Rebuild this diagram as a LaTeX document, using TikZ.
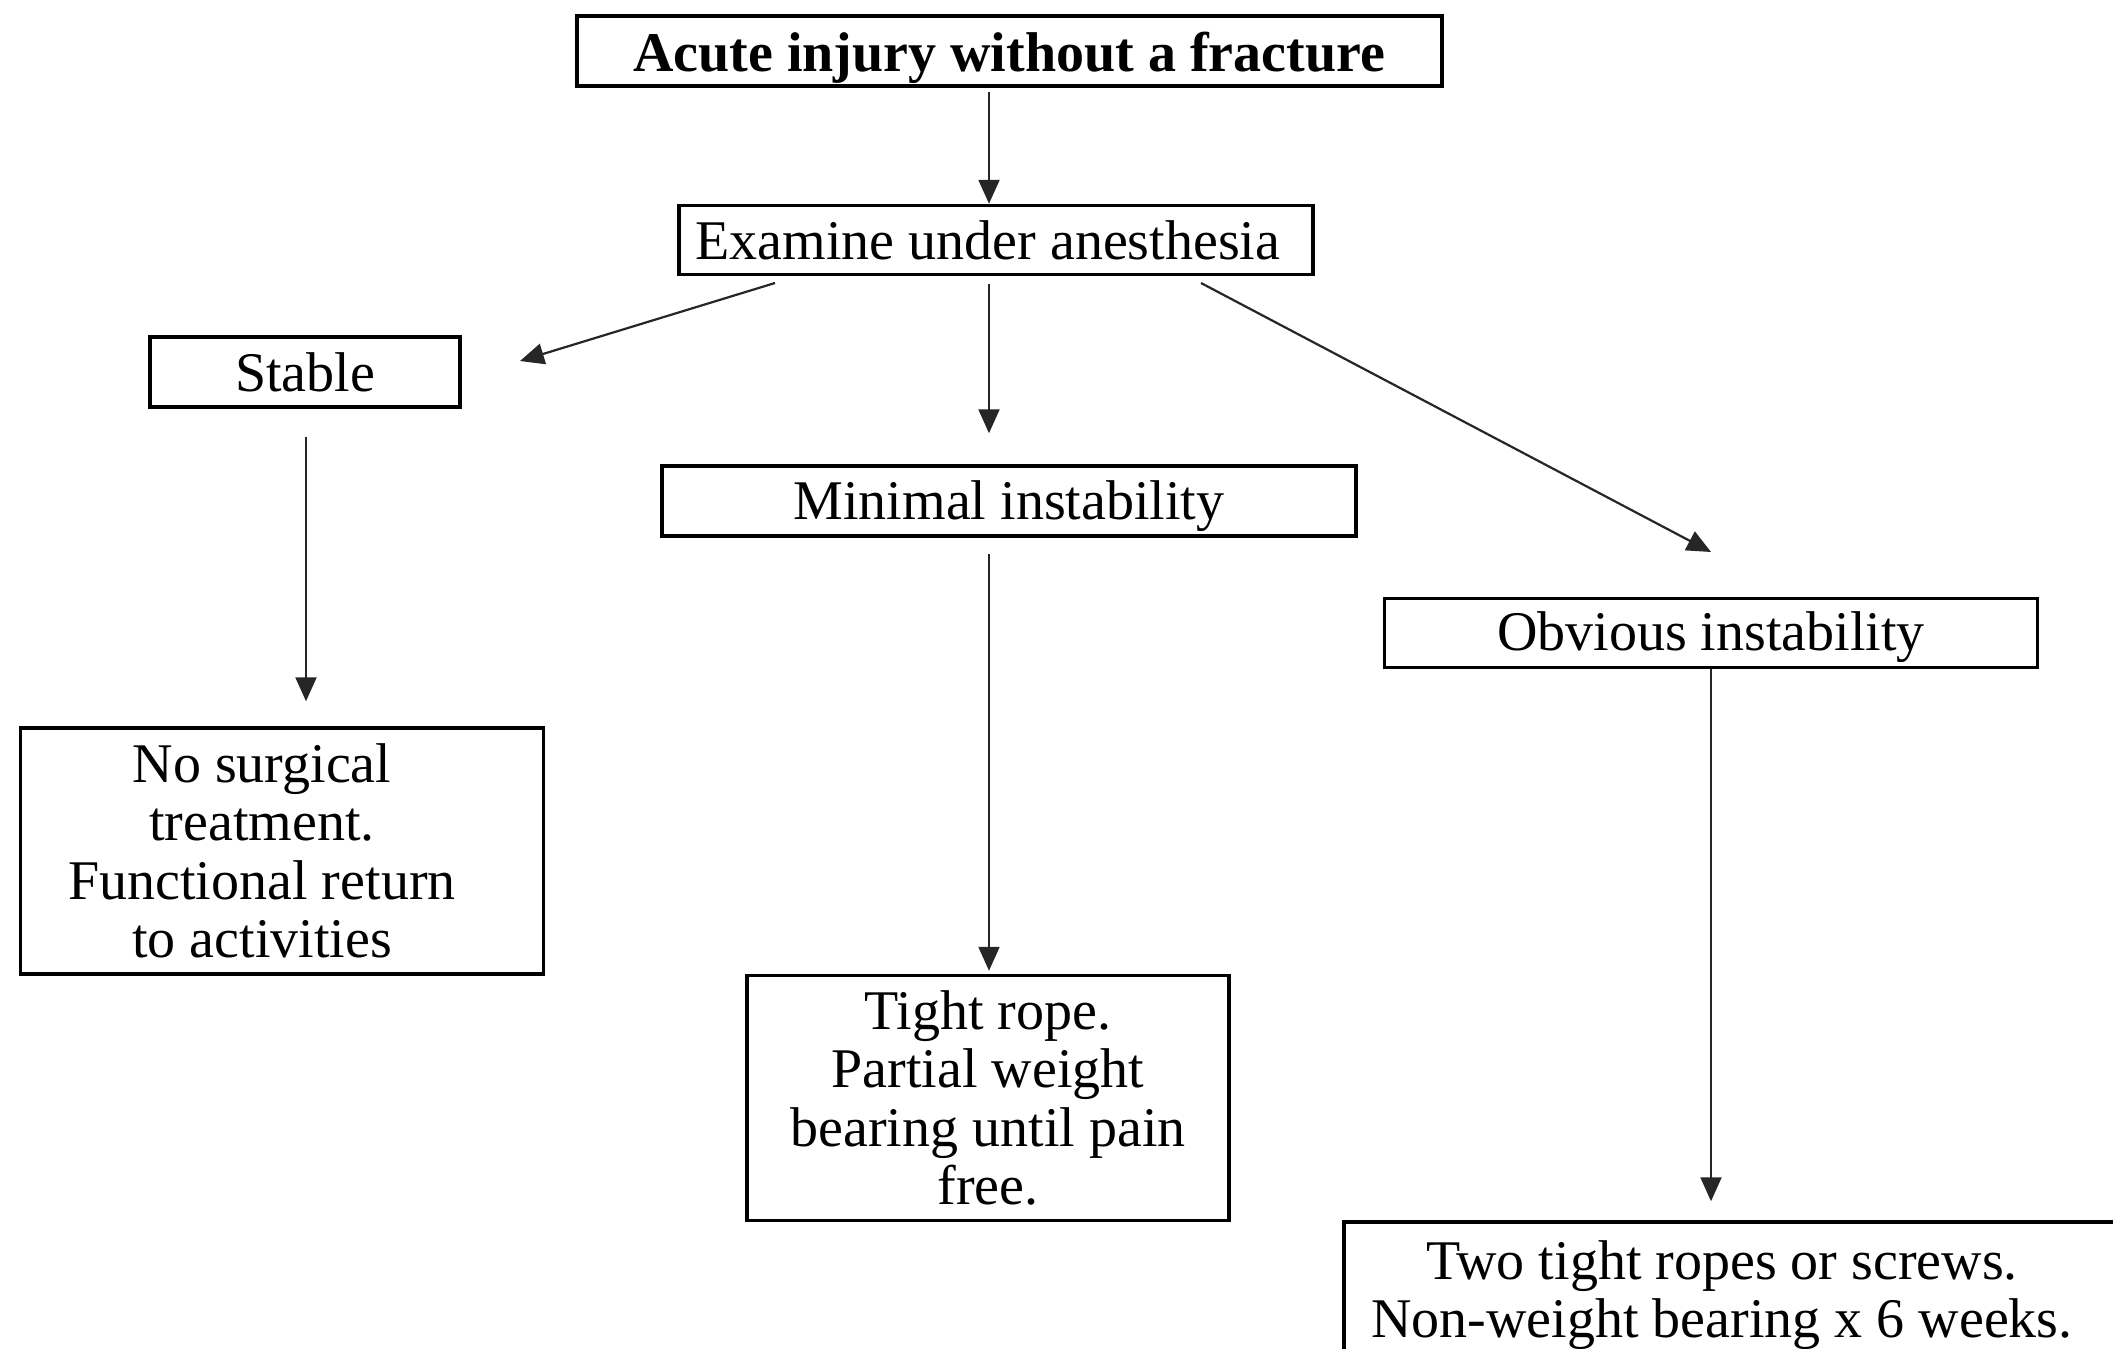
\documentclass[tikz,border=0pt]{standalone}
\usepackage{fontspec}
\setmainfont{Liberation Serif}
\usetikzlibrary{arrows.meta,calc}
\newcommand{\lowertext}[2]{\raisebox{-#1}[\height][\depth]{#2}}
\begin{document}
\begin{tikzpicture}[x=1pt,y=-1pt,
  txt/.style={inner sep=0pt,align=center,font=\fontsize{56}{58.5}\selectfont},
  box/.style={txt,draw=black,line width=3.5pt,rectangle},
  conn/.style={draw=black!85,line width=2.2pt,-{Triangle[length=24pt,width=21pt]}}]
\useasboundingbox (0,0) rectangle (2113,1349);
\fill[white] (0,0) rectangle (2113,1349);
\node[box,line width=4pt,minimum width=865pt,minimum height=70pt,font=\bfseries\fontsize{56}{58.5}\selectfont] (top) at (1009,51) {\lowertext{7pt}{Acute injury without a fracture}};
\node[box,minimum width=634pt,minimum height=69pt] (exam) at (996,240) {\hspace*{-16pt}Examine under anesthesia};
\node[box,minimum width=310pt,minimum height=70pt] (stable) at (305,372) {Stable};
\node[box,minimum width=694pt,minimum height=70pt] (minimal) at (1009,501) {\lowertext{5pt}{Minimal instability}};
\node[box,minimum width=653pt,minimum height=69pt] (obvious) at (1711,633) {\lowertext{4pt}{Obvious instability}};
\node[box,minimum width=523pt,minimum height=246pt] (nosurg) at (282,851) {};
\node[txt] (nosurgT) at ($(nosurg)+(-20,0)$) {No surgical\\treatment.\\Functional return\\to activities};
\node[box,minimum width=482pt,minimum height=245pt] (tight) at (988,1098) {Tight rope.\\Partial weight\\bearing until pain\\free.};
\node[box,minimum width=790pt,minimum height=136pt] (two) at (1739,1290) {};
\node[txt] (twoT) at (1722,1295) {Two tight ropes or screws.\\Non-weight bearing x 6 weeks.};
% free ends
\coordinate (eS) at (775,283);
\coordinate (sT) at (520,361);
\coordinate (eO) at (1201,283);
\coordinate (oT) at (1711,552);
\draw[conn] (989,92) -- (exam.north -| 989,0);
\draw[conn] (eS) -- (sT);
\draw[conn] ($(exam.south)+(-7,8)$) -- ($(minimal.north)+(-20,-31)$);
\draw[conn] (eO) -- (oT);
\draw[conn] ($(stable.south)+(1,28)$) -- ($(nosurg.north)+(24,-25)$);
\draw[conn] ($(minimal.south)+(-20,16)$) -- ($(tight.north)+(1,-3)$);
\draw[conn] (obvious.south) -- ($(two.north)+(-28,-19)$);
\end{tikzpicture}
\end{document}
